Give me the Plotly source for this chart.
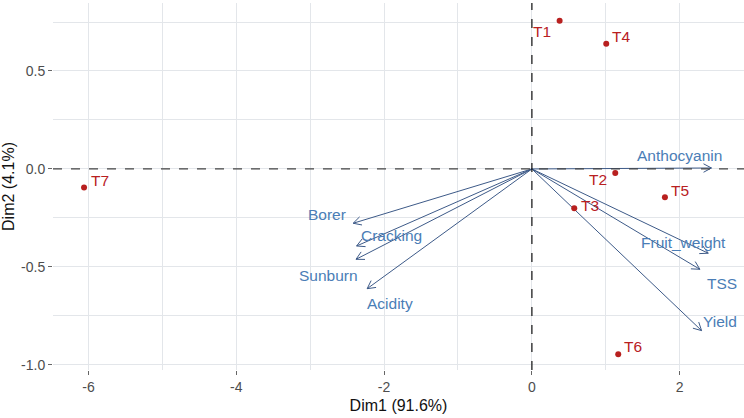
import math
import plotly.graph_objects as go

# ---- data ----
ind_names = ["T1", "T2", "T3", "T4", "T5", "T6", "T7"]
ind_dim1 = [0.375, 1.128, 0.573, 1.006, 1.80, 1.168, -6.06]
ind_dim2 = [0.757, -0.020, -0.200, 0.639, -0.145, -0.946, -0.095]

var_names = ["Borer", "Cracking", "Sunburn", "Acidity", "Anthocyanin", "Fruit_weight", "TSS", "Yield"]
var_dim1 = [-2.418, -2.372, -2.380, -2.229, 2.430, 2.386, 2.273, 2.296]
var_dim2 = [-0.277, -0.393, -0.461, -0.611, 0.005, -0.430, -0.512, -0.825]

x_ticks = [-6, -4, -2, 0, 2]
x_tick_text = ["-6", "-4", "-2", "0", "2"]
y_ticks = [-1.0, -0.5, 0.0, 0.5]
y_tick_text = ["-1.0", "-0.5", "0.0", "0.5"]

# ---- layout / style ----
W, H = 744, 418
ML, MR, MT, MB = 53, 0, 3, 48
XR = [-6.48, 2.87]
YR = [-1.026, 0.847]
px_x = (W - ML - MR) / (XR[1] - XR[0])
px_y = (H - MT - MB) / (YR[1] - YR[0])

ind_label_shift = {  # pixel offsets of labels (repel-like placement)
    "T1": (-18, -11), "T2": (-17, -7), "T3": (16, 3), "T4": (15, 7),
    "T5": (15, 7), "T6": (15, 8), "T7": (16, 7),
}
var_label_shift = {
    "Borer": (-26, 9), "Cracking": (35, 10), "Sunburn": (-28, -16), "Acidity": (23, -15),
    "Anthocyanin": (-32, 12), "Fruit_weight": (-25, 11), "TSS": (22, -14), "Yield": (18, 9),
}

RED = "#b8201f"
BLUE_TXT = "#4a7db6"
BLUE_LINE = "#3d5a88"
FONT = "Liberation Sans, Arial, sans-serif"

fig = go.Figure()

# arrows (shafts + open chevron heads)
for name, vx, vy in zip(var_names, var_dim1, var_dim2):
    fig.add_trace(go.Scatter(x=[0, vx], y=[0, vy], mode="lines",
                             line=dict(color=BLUE_LINE, width=1), hoverinfo="skip",
                             showlegend=False))
    dxp, dyp = vx * px_x, vy * px_y
    n = math.hypot(dxp, dyp)
    ux, uy = dxp / n, dyp / n
    L = 9
    hx, hy = [], []
    for ang in (math.radians(28), -math.radians(28)):
        rx = ux * math.cos(ang) - uy * math.sin(ang)
        ry = ux * math.sin(ang) + uy * math.cos(ang)
        hx += [vx - L * rx / px_x, vx, None]
        hy += [vy - L * ry / px_y, vy, None]
    fig.add_trace(go.Scatter(x=hx, y=hy, mode="lines",
                             line=dict(color=BLUE_LINE, width=1), hoverinfo="skip",
                             showlegend=False))
    sx, sy = var_label_shift[name]
    fig.add_annotation(x=vx, y=vy, text=name, showarrow=False, xshift=sx, yshift=sy,
                       font=dict(family=FONT, size=15.5, color=BLUE_TXT))

# individuals
fig.add_trace(go.Scatter(x=ind_dim1, y=ind_dim2, mode="markers",
                         marker=dict(color=RED, size=6), showlegend=False,
                         text=ind_names, hoverinfo="text"))
for name, px_, py_ in zip(ind_names, ind_dim1, ind_dim2):
    sx, sy = ind_label_shift[name]
    fig.add_annotation(x=px_, y=py_, text=name, showarrow=False, xshift=sx, yshift=sy,
                       font=dict(family=FONT, size=15.5, color=RED))

# dashed reference lines
fig.add_shape(type="line", xref="paper", x0=0, x1=1, yref="y", y0=0, y1=0,
              line=dict(color="#444444", width=1.2, dash="dash"), layer="above")
fig.add_shape(type="line", yref="paper", y0=0, y1=1, xref="x", x0=0, x1=0,
              line=dict(color="#111111", width=1.2, dash="dash"), layer="above")

grid = "#e3e6ea"
fig.update_layout(
    width=W, height=H,
    margin=dict(l=ML, r=MR, t=MT, b=MB),
    paper_bgcolor="white", plot_bgcolor="white",
    font=dict(family=FONT),
    xaxis=dict(range=XR, tickvals=x_ticks, ticktext=x_tick_text, ticks="outside", ticklen=4,
               tickcolor="#666666",
               showgrid=True, gridcolor=grid, gridwidth=1, zeroline=False,
               minor=dict(dtick=1, showgrid=True, gridcolor=grid, gridwidth=0.7),
               tickfont=dict(size=14, color="#4d4d4d"),
               title=dict(text="Dim1 (91.6%)", font=dict(size=16, color="#111111"), standoff=6)),
    yaxis=dict(range=YR, tickvals=y_ticks, ticktext=y_tick_text, ticks="outside", ticklen=4,
               tickcolor="#666666",
               showgrid=True, gridcolor=grid, gridwidth=1, zeroline=False,
               minor=dict(dtick=0.25, showgrid=True, gridcolor=grid, gridwidth=0.7),
               tickfont=dict(size=14, color="#4d4d4d"),
               title=dict(text="Dim2 (4.1%)", font=dict(size=16, color="#111111"), standoff=4)),
)

fig.write_html("out.html")
